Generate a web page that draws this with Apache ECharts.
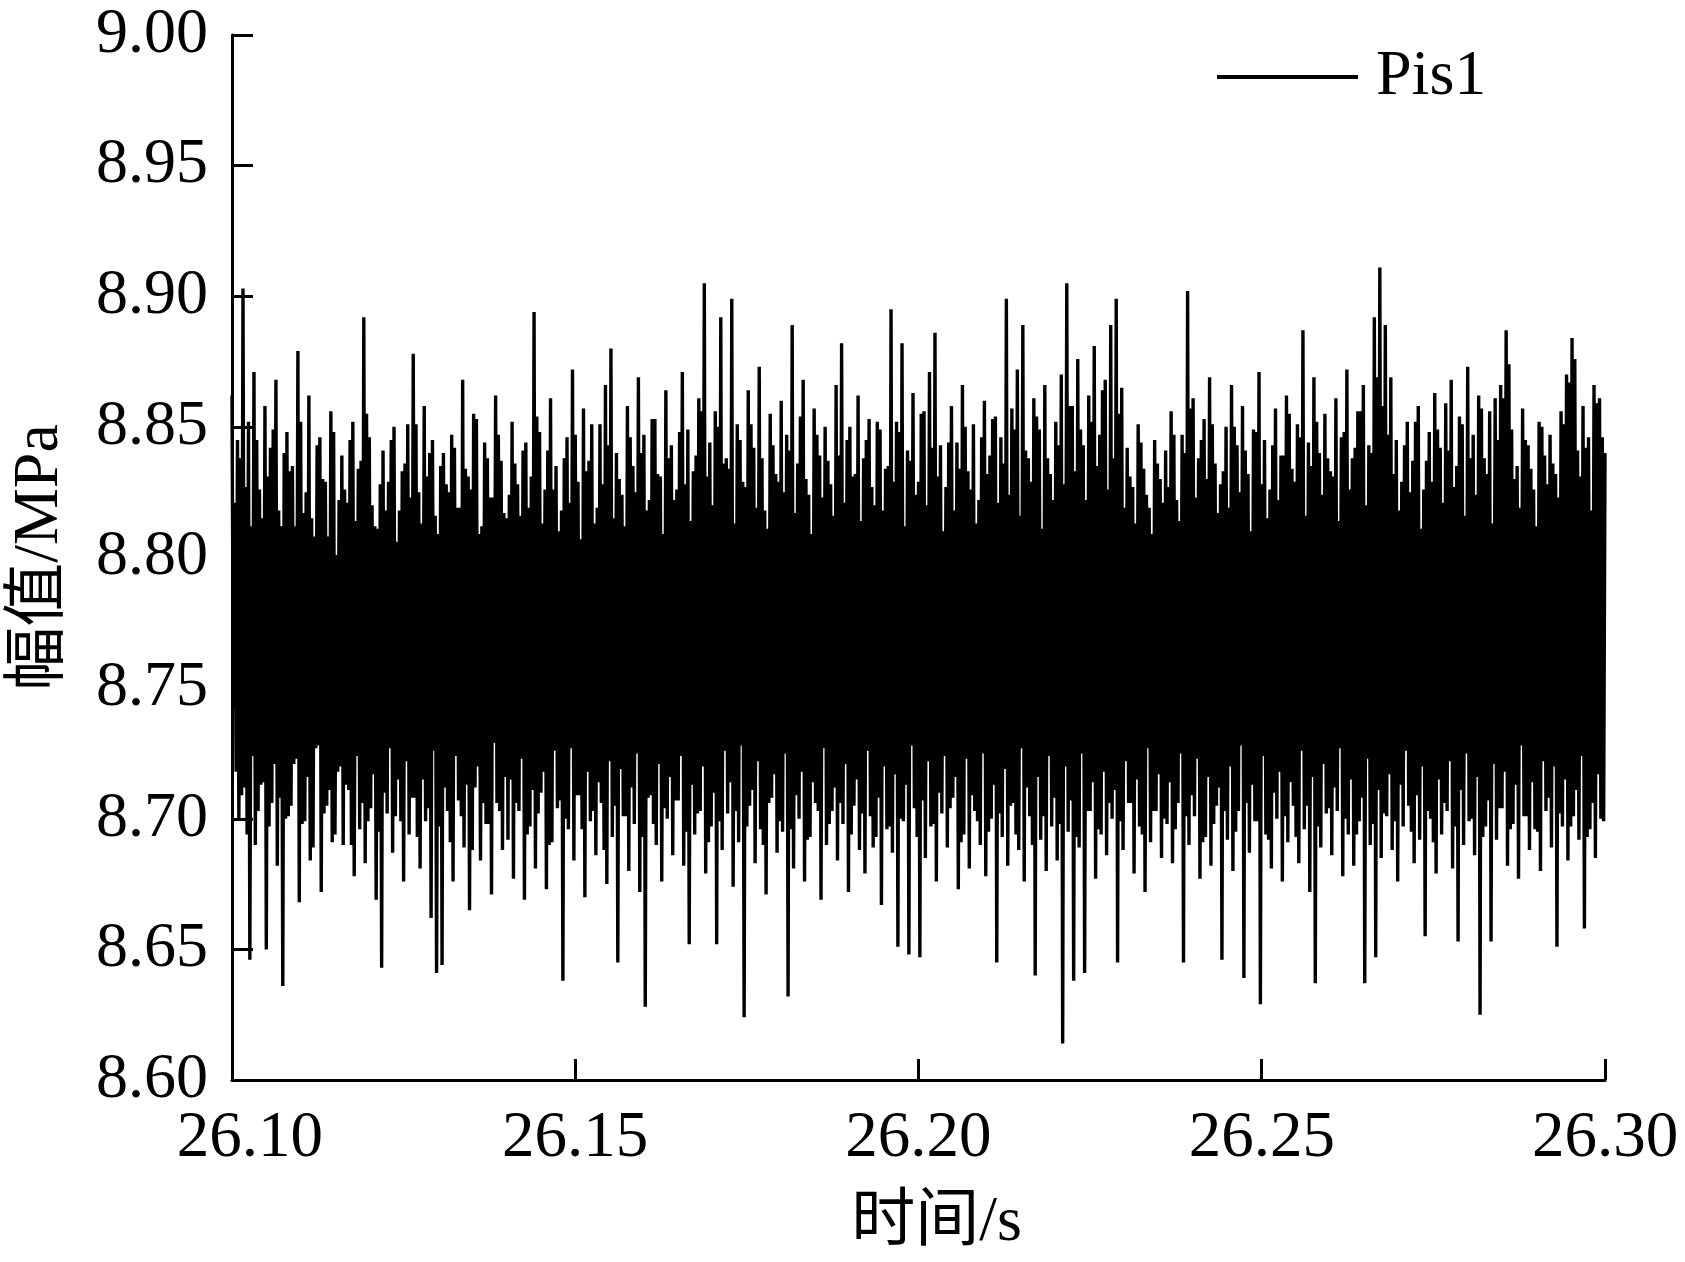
<!DOCTYPE html>
<html>
<head>
<meta charset="utf-8">
<script src="https://cdn.jsdelivr.net/npm/echarts@6/dist/echarts.min.js"></script>
<style>
html,body{margin:0;padding:0;background:#fff;}
#chart{width:1685px;height:1262px;}
</style>
</head>
<body>
<div id="chart"></div>
<script>
// Sampling: start time and step (s)
const tStart = 26.10;
const tStep = 0.0002;
const xTicks = [26.10, 26.15, 26.20, 26.25, 26.30];
const yTicks = [8.60, 8.65, 8.70, 8.75, 8.80, 8.85, 8.90, 8.95, 9.00];
const seriesName = 'Pis1';
const xTitle = '时间/s';
const yTitle = '幅值/MPa';
// Pis1 amplitude (MPa)
const pis1 = [
8.862,8.742,8.821,8.718,8.845,8.700,8.838,8.709,8.903,8.712,8.827,8.694,8.852,8.646,8.812,8.724,8.871,8.690,8.845,8.703,8.826,8.713,8.815,8.714,8.858,8.650,8.831,8.697,8.842,8.706,8.849,8.721,8.868,8.682,8.818,8.708,8.812,8.636,8.840,8.700,
8.848,8.701,8.833,8.705,8.835,8.721,8.812,8.723,8.879,8.668,8.852,8.698,8.817,8.699,8.825,8.716,8.862,8.684,8.815,8.689,8.808,8.727,8.843,8.728,8.846,8.672,8.830,8.702,8.829,8.705,8.808,8.711,8.856,8.691,8.848,8.694,8.801,8.718,8.822,8.720,
8.839,8.690,8.826,8.713,8.821,8.711,8.845,8.690,8.852,8.678,8.814,8.724,8.834,8.696,8.837,8.706,8.892,8.683,8.855,8.699,8.846,8.704,8.820,8.717,8.812,8.669,8.811,8.695,8.828,8.643,8.841,8.710,8.818,8.702,8.829,8.727,8.845,8.687,8.850,8.701,
8.806,8.715,8.818,8.699,8.833,8.676,8.836,8.722,8.851,8.694,8.823,8.708,8.878,8.708,8.851,8.693,8.825,8.681,8.813,8.715,8.858,8.699,8.831,8.704,8.840,8.662,8.845,8.726,8.816,8.641,8.809,8.697,8.835,8.644,8.840,8.712,8.828,8.703,8.825,8.691,
8.847,8.676,8.842,8.724,8.819,8.707,8.819,8.701,8.868,8.689,8.834,8.713,8.831,8.665,8.826,8.688,8.855,8.712,8.853,8.720,8.809,8.684,8.812,8.706,8.844,8.698,8.838,8.698,8.823,8.671,8.823,8.729,8.862,8.706,8.847,8.703,8.837,8.688,8.817,8.716,
8.815,8.692,8.824,8.715,8.852,8.677,8.836,8.706,8.828,8.703,8.816,8.723,8.841,8.669,8.844,8.694,8.819,8.697,8.831,8.711,8.894,8.681,8.854,8.702,8.848,8.710,8.813,8.718,8.826,8.673,8.841,8.690,8.861,8.691,8.826,8.726,8.835,8.704,8.810,8.707,
8.818,8.638,8.838,8.700,8.846,8.696,8.821,8.727,8.872,8.684,8.847,8.709,8.829,8.709,8.807,8.696,8.857,8.670,8.833,8.718,8.837,8.699,8.851,8.703,8.813,8.686,8.819,8.714,8.851,8.706,8.828,8.688,8.866,8.675,8.843,8.722,8.880,8.693,8.815,8.705,
8.840,8.645,8.830,8.719,8.824,8.701,8.812,8.701,8.858,8.680,8.846,8.712,8.835,8.698,8.825,8.725,8.869,8.672,8.840,8.693,8.847,8.628,8.818,8.708,8.822,8.709,8.853,8.698,8.853,8.690,8.832,8.721,8.831,8.676,8.809,8.704,8.864,8.700,8.838,8.716,
8.843,8.686,8.822,8.707,8.826,8.707,8.848,8.724,8.871,8.682,8.828,8.695,8.849,8.652,8.814,8.713,8.833,8.694,8.839,8.702,8.861,8.703,8.856,8.720,8.905,8.679,8.831,8.691,8.844,8.697,8.820,8.710,8.856,8.652,8.850,8.699,8.892,8.688,8.836,8.726,
8.838,8.702,8.834,8.714,8.899,8.674,8.813,8.703,8.851,8.691,8.845,8.728,8.829,8.624,8.827,8.697,8.864,8.705,8.851,8.711,8.842,8.683,8.819,8.722,8.873,8.696,8.838,8.690,8.818,8.671,8.811,8.706,8.855,8.708,8.843,8.717,8.832,8.687,8.829,8.699,
8.860,8.695,8.825,8.725,8.847,8.632,8.841,8.696,8.889,8.681,8.817,8.709,8.836,8.700,8.854,8.718,8.868,8.676,8.830,8.692,8.824,8.693,8.809,8.714,8.857,8.706,8.847,8.703,8.839,8.669,8.823,8.727,8.850,8.690,8.837,8.698,8.828,8.703,8.816,8.712,
8.866,8.684,8.839,8.706,8.882,8.698,8.821,8.721,8.845,8.672,8.850,8.694,8.831,8.705,8.832,8.715,8.862,8.688,8.814,8.702,8.838,8.679,8.845,8.726,8.853,8.701,8.827,8.689,8.820,8.693,8.852,8.708,8.849,8.667,8.818,8.720,8.834,8.696,8.835,8.697,
8.895,8.687,8.829,8.717,8.852,8.651,8.848,8.700,8.882,8.699,8.812,8.713,8.841,8.648,8.837,8.728,8.863,8.704,8.824,8.693,8.829,8.647,8.855,8.707,8.856,8.685,8.820,8.722,8.871,8.697,8.842,8.698,8.886,8.676,8.831,8.710,8.843,8.702,8.810,8.724,
8.827,8.689,8.844,8.704,8.858,8.708,8.818,8.716,8.844,8.673,8.834,8.691,8.866,8.694,8.850,8.723,8.833,8.681,8.826,8.709,8.851,8.703,8.813,8.699,8.822,8.690,8.846,8.725,8.860,8.678,8.832,8.695,8.839,8.700,8.853,8.713,8.854,8.645,8.821,8.702,
8.846,8.693,8.836,8.719,8.899,8.682,8.824,8.705,8.857,8.706,8.849,8.694,8.872,8.688,8.816,8.727,8.889,8.676,8.841,8.712,8.838,8.701,8.829,8.690,8.861,8.640,8.854,8.716,8.849,8.692,8.811,8.701,8.866,8.680,8.838,8.724,8.832,8.697,8.822,8.708,
8.852,8.684,8.843,8.698,8.870,8.614,8.828,8.720,8.905,8.695,8.858,8.707,8.858,8.638,8.833,8.693,8.876,8.689,8.849,8.725,8.843,8.641,8.822,8.703,8.862,8.703,8.852,8.714,8.881,8.677,8.835,8.696,8.847,8.694,8.864,8.718,8.868,8.686,8.826,8.706,
8.889,8.700,8.838,8.711,8.899,8.645,8.855,8.699,8.865,8.688,8.819,8.722,8.842,8.706,8.831,8.706,8.827,8.679,8.813,8.715,8.851,8.697,8.844,8.694,8.834,8.672,8.824,8.727,8.819,8.691,8.809,8.703,8.845,8.703,8.836,8.717,8.830,8.685,8.821,8.700,
8.841,8.698,8.827,8.714,8.856,8.683,8.847,8.696,8.822,8.706,8.814,8.725,8.847,8.645,8.840,8.701,8.902,8.690,8.857,8.709,8.861,8.701,8.823,8.723,8.838,8.677,8.845,8.691,8.853,8.693,8.830,8.716,8.869,8.682,8.851,8.698,8.836,8.705,8.817,8.712,
8.828,8.646,8.833,8.703,8.850,8.692,8.819,8.720,8.866,8.680,8.850,8.695,8.843,8.703,8.825,8.728,8.858,8.639,8.841,8.706,8.832,8.687,8.810,8.713,8.849,8.699,8.848,8.699,8.871,8.629,8.828,8.724,8.845,8.694,8.815,8.692,8.826,8.681,8.843,8.710,
8.857,8.700,8.822,8.718,8.839,8.676,8.839,8.701,8.862,8.691,8.855,8.714,8.834,8.705,8.829,8.693,8.851,8.683,8.846,8.726,8.887,8.696,8.816,8.705,8.844,8.672,8.835,8.716,8.869,8.637,8.852,8.697,8.840,8.689,8.824,8.721,8.855,8.702,8.838,8.704,
8.833,8.686,8.831,8.712,8.861,8.703,8.814,8.727,8.846,8.678,8.848,8.700,8.872,8.694,8.826,8.715,8.838,8.682,8.842,8.694,8.856,8.699,8.856,8.708,8.866,8.637,8.820,8.723,8.843,8.690,8.840,8.698,8.892,8.647,8.869,8.711,8.911,8.685,8.858,8.702,
8.889,8.701,8.847,8.717,8.869,8.688,8.832,8.699,8.845,8.676,8.818,8.713,8.829,8.697,8.843,8.726,8.852,8.705,8.825,8.695,8.837,8.683,8.852,8.709,8.858,8.692,8.811,8.720,8.826,8.655,8.837,8.703,8.848,8.700,8.829,8.691,8.863,8.679,8.849,8.715,
8.842,8.694,8.821,8.706,8.859,8.703,8.841,8.722,8.868,8.681,8.827,8.697,8.835,8.653,8.854,8.711,8.851,8.690,8.816,8.725,8.873,8.699,8.838,8.700,8.847,8.686,8.824,8.716,8.862,8.625,8.857,8.693,8.838,8.697,8.832,8.707,8.856,8.653,8.813,8.721,
8.861,8.692,8.845,8.704,8.866,8.704,8.861,8.718,8.887,8.682,8.874,8.696,8.849,8.698,8.830,8.713,8.835,8.677,8.819,8.728,8.857,8.701,8.845,8.701,8.843,8.688,8.834,8.714,8.826,8.696,8.812,8.695,8.852,8.680,8.850,8.722,8.839,8.703,8.828,8.708,
8.847,8.689,8.836,8.720,8.832,8.651,8.823,8.702,8.856,8.697,8.851,8.715,8.870,8.684,8.867,8.697,8.884,8.701,8.876,8.711,8.841,8.692,8.831,8.724,8.858,8.658,8.842,8.693,8.846,8.696,8.818,8.706,8.866,8.685,8.859,8.717,8.861,8.700,8.846,8.699,
8.840
];

const points = pis1.map((v, i) => [tStart + i * tStep, v]);

const serif = "'Liberation Serif','Times New Roman','Noto Sans CJK SC',serif";
const chart = echarts.init(document.getElementById('chart'), null, {renderer: 'canvas'});
chart.setOption({
  animation: false,
  backgroundColor: '#ffffff',
  grid: {left: 228, right: 80, top: 35, bottom: 182, containLabel: false},
  legend: {
    data: [seriesName],
    left: 1212, top: 40,
    icon: 'rect', itemWidth: 141, itemHeight: 4,
    itemStyle: {color: '#000'},
    textStyle: {fontFamily: serif, fontSize: 64, color: '#000', padding: [0, 0, 0, 13]}
  },
  xAxis: {
    type: 'value',
    min: xTicks[0], max: xTicks[xTicks.length - 1], interval: 0.05,
    name: xTitle, nameLocation: 'middle', nameGap: 111,
    nameTextStyle: {fontFamily: serif, fontSize: 64, color: '#000', padding: [0, 0, 0, 36]},
    axisLine: {show: true, onZero: false, lineStyle: {color: '#000', width: 3}},
    axisTick: {show: true, inside: true, length: 21, lineStyle: {color: '#000', width: 3}},
    axisLabel: {fontFamily: serif, fontSize: 65, color: '#000', margin: 26,
      formatter: (v, idx) => idx === 0 ? '{first|' + v.toFixed(2) + '}' : v.toFixed(2),
      rich: {first: {fontFamily: serif, fontSize: 65, color: '#000', padding: [0, 0, 0, 36]}}},
    splitLine: {show: false}
  },
  yAxis: {
    type: 'value',
    min: yTicks[0], max: yTicks[yTicks.length - 1], interval: 0.05,
    name: yTitle, nameLocation: 'middle', nameGap: 160, nameRotate: 90,
    nameTextStyle: {fontFamily: serif, fontSize: 64, color: '#000'},
    axisLine: {show: true, onZero: false, lineStyle: {color: '#000', width: 3}},
    axisTick: {show: true, inside: true, length: 21, lineStyle: {color: '#000', width: 3}},
    axisLabel: {fontFamily: serif, fontSize: 64, color: '#000', margin: 24,
      formatter: v => v.toFixed(2)},
    splitLine: {show: false}
  },
  series: [{
    name: seriesName,
    type: 'line',
    data: points,
    symbol: 'none',
    showSymbol: false,
    sampling: null,
    clip: true,
    lineStyle: {color: '#000', width: 3.4, join: 'bevel'},
    itemStyle: {color: '#000'}
  }]
});
</script>
</body>
</html>
